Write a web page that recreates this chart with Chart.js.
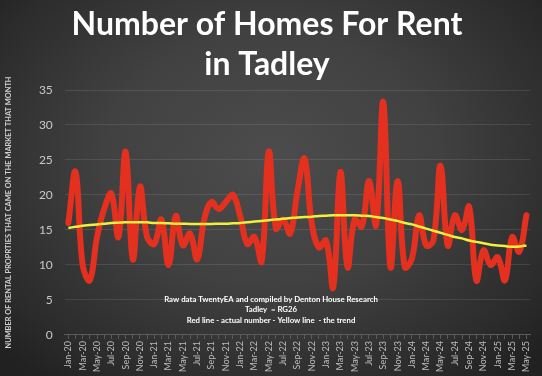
<!DOCTYPE html>
<html>
<head>
<meta charset="utf-8">
<script src="https://cdn.jsdelivr.net/npm/chart.js@4.4.4/dist/chart.umd.min.js"></script>
<style>
  html, body { margin: 0; padding: 0; }
  body {
    width: 542px; height: 376px; overflow: hidden;
    background: radial-gradient(ellipse 68% 75% at 50% 42%, #4c4c4c 0%, #414141 45%, #2b2b2b 85%, #212121 100%);
  }
  #wrap { position: relative; width: 542px; height: 376px; }
</style>
</head>
<body>
<div id="wrap"><canvas id="chart" width="542" height="376"></canvas></div>
<script>
// months Jan-20 .. May-25
const months = ['Jan','Feb','Mar','Apr','May','Jun','Jul','Aug','Sep','Oct','Nov','Dec'];
const labels = [];
for (let y = 20; y <= 25; y++) {
  for (let m = 0; m < 12; m++) {
    if (y === 25 && m > 4) break;
    labels.push(months[m] + '-' + y);
  }
}

// actual number of homes listed each month
const actual = [
  16, 23.3, 10, 7.8, 14, 18, 20.2, 14, 26.2, 10.8, 21.2, 14,
  13, 16.5, 10, 17, 12.8, 14.5, 10.8, 16.6, 19, 18, 19, 20,
  17, 13, 14, 10.5, 26.2, 15.2, 16.5, 14.5, 20.5, 25.2, 16, 12.5,
  13.5, 6.8, 23.3, 9.7, 16.5, 15.5, 22, 15.7, 33.3, 9.7, 22, 9.7,
  10.9, 17.1, 12.8, 13.5, 24.2, 12.8, 17.1, 15, 18.3, 7.8, 12.1, 10,
  11.1, 7.8, 14, 11.9, 17.1
];

// yellow trend line
const trend = [
  15.3, 15.45, 15.6, 15.7, 15.8, 15.9, 16.0, 16.05, 16.1, 16.1, 16.1, 16.1,
  16.0, 16.0, 15.95, 15.9, 15.9, 15.85, 15.85, 15.85, 15.85, 15.9, 15.9, 15.95,
  16.0, 16.1, 16.2, 16.3, 16.4, 16.5, 16.6, 16.7, 16.8, 16.85, 16.9, 17.0,
  17.05, 17.1, 17.1, 17.1, 17.1, 17.05, 17.0, 16.85, 16.7, 16.5, 16.3, 16.0,
  15.8, 15.5, 15.2, 14.9, 14.6, 14.3, 14.0, 13.8, 13.5, 13.3, 13.1, 12.9,
  12.8, 12.7, 12.6, 12.65, 12.8
];

const titleLines = ['Number of Homes For Rent', 'in Tadley'];
const noteLines = [
  'Raw data TwentyEA and compiled by Denton House Research',
  'Tadley  = RG26',
  'Red line - actual number - Yellow line  - the trend'
];
const yTitle = 'NUMBER OF RENTAL PROPRTIES THAT CAME ON THE MARKET THAT MONTH';

const FONT = 'Lato, "Open Sans", sans-serif';

// note text in the middle of the plot
const notePlugin = {
  id: 'note',
  afterDraw(chart) {
    const { ctx } = chart;
    ctx.save();
    ctx.font = 'bold 7.8px ' + FONT;
    ctx.fillStyle = '#ffffff';
    ctx.textAlign = 'center';
    ctx.textBaseline = 'middle';
    noteLines.forEach((t, i) => ctx.fillText(t, 271, 299 + i * 10.5));
    ctx.restore();
  }
};

new Chart(document.getElementById('chart'), {
  type: 'line',
  data: {
    labels,
    datasets: [
      { label: 'Trend', data: trend, borderColor: '#f2f03c', borderWidth: 2.5,
        pointRadius: 0, tension: 0.4, order: 0 },
      { label: 'Actual', data: actual, borderColor: '#e3301f', borderWidth: 6,
        pointRadius: 0, tension: 0.4, borderCapStyle: 'round', borderJoinStyle: 'round', order: 1 },
    ],
  },
  options: {
    responsive: false, animation: false,
    layout: { padding: { left: 4, right: 12, top: 0, bottom: 2 } },
    plugins: {
      legend: { display: false },
      tooltip: { enabled: false },
      title: {
        display: true, text: titleLines, color: '#ffffff',
        font: { family: FONT, size: 32, weight: 'bold', lineHeight: 1.25 },
        padding: { top: 5, bottom: 5 },
      },
    },
    scales: {
      x: {
        offset: true,
        grid: { display: true, drawOnChartArea: false, color: '#5a5a5a', tickLength: 4 },
        border: { color: '#5c5c5c' },
        ticks: {
          autoSkip: false, maxRotation: 90, minRotation: 90, color: '#bdbdbd', padding: 2,
          font: { family: FONT, size: 9 },
          callback: (v, i) => (i % 2 === 0 ? labels[i] : ''),
        },
      },
      y: {
        min: 0, max: 35,
        grid: { color: 'rgba(255,255,255,0.10)', drawTicks: false },
        border: { display: false },
        ticks: { stepSize: 5, color: '#c8c8c8', padding: 12, font: { family: FONT, size: 12 } },
        title: {
          display: true, text: yTitle, color: '#cfcfcf', padding: { top: 0, bottom: 14 },
          font: { family: FONT, size: 7.4, weight: 'bold' },
        },
      },
    },
  },
  plugins: [notePlugin],
});
</script>
</body>
</html>
